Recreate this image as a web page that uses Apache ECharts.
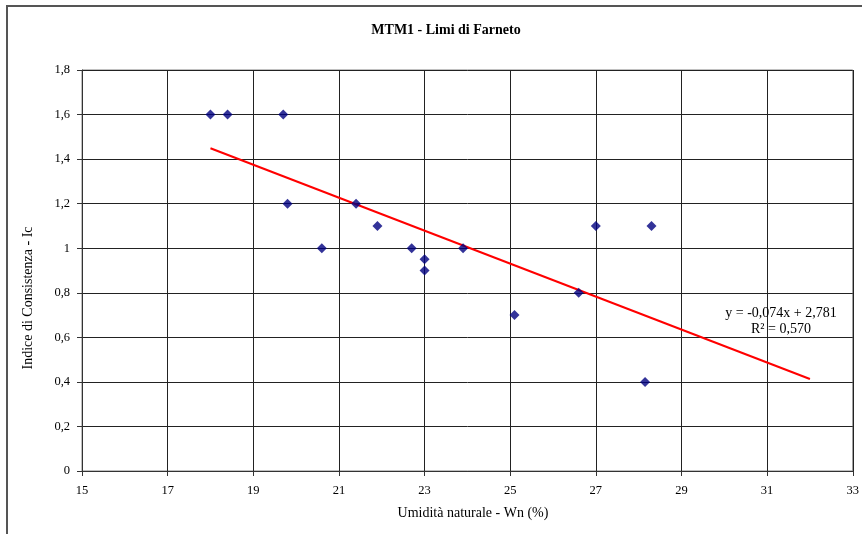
<!DOCTYPE html>
<html>
<head>
<meta charset="utf-8">
<script src="https://cdn.jsdelivr.net/npm/echarts@6/dist/echarts.min.js"></script>
<style>
html,body{margin:0;padding:0;background:#fff;}
#c{width:862px;height:534px;}
</style>
</head>
<body>
<div id="c"></div>
<script>
// Data
var wn = [18.0, 18.4, 19.7, 19.8, 20.6, 21.4, 21.9, 22.7, 23.0, 23.0, 23.9, 25.1, 26.6, 27.0, 28.3, 28.15];
var ic = [1.6, 1.6, 1.6, 1.2, 1.0, 1.2, 1.1, 1.0, 0.95, 0.9, 1.0, 0.7, 0.8, 1.1, 1.1, 0.4];
var trendX = [18, 32];
var trendY = [1.449, 0.413];
var xTickLabels = ['15','17','19','21','23','25','27','29','31','33'];
var yTickLabels = ['0','0,2','0,4','0,6','0,8','1','1,2','1,4','1,6','1,8'];
var titleText = 'MTM1 - Limi di Farneto';
var xTitle = 'Umidità naturale - Wn (%)';
var yTitle = 'Indice di Consistenza - Ic';
var eqLines = ['y = -0,074x + 2,781', 'R² = 0,570'];

var FONT = '"Liberation Serif", "Times New Roman", serif';
var chart = echarts.init(document.getElementById('c'), null, {renderer: 'canvas'});

var pts = wn.map(function (x, i) { return [x, ic[i]]; });
var trend = trendX.map(function (x, i) { return [x, trendY[i]]; });

chart.setOption({
  animation: false,
  backgroundColor: '#fff',
  title: {
    text: titleText,
    left: 441, top: 18, textAlign: 'center',
    textStyle: {fontFamily: FONT, fontSize: 14, fontWeight: 'bold', color: '#000'}
  },
  grid: {left: 82, right: 5, top: 70, bottom: 63, show: true, borderColor: '#808080', borderWidth: 1},
  xAxis: {
    type: 'value', min: 15, max: 33, interval: 2,
    axisLine: {show: true, onZero: false, lineStyle: {color: '#333', width: 1}},
    axisTick: {show: true, inside: false, length: 5, lineStyle: {color: '#333'}},
    axisLabel: {margin: 13, fontFamily: FONT, fontSize: 12.5, color: '#000',
      formatter: function (v) { return xTickLabels[Math.round((v - 15) / 2)]; }},
    splitLine: {show: true, lineStyle: {color: '#222', width: 1}}
  },
  yAxis: {
    type: 'value', min: 0, max: 1.8, interval: 0.2,
    axisLine: {show: true, onZero: false, lineStyle: {color: '#333', width: 1}},
    axisTick: {show: true, inside: false, length: 5, lineStyle: {color: '#333'}},
    axisLabel: {margin: 12, fontFamily: FONT, fontSize: 12.5, color: '#000',
      formatter: function (v) { return yTickLabels[Math.round(v / 0.2)]; }},
    splitLine: {show: true, lineStyle: {color: '#222', width: 1}}
  },
  series: [
    {
      type: 'line', data: trend, symbol: 'none', silent: true,
      lineStyle: {color: '#ff0000', width: 2}, z: 3
    },
    {
      type: 'scatter', data: pts, symbol: 'diamond', symbolSize: 10,
      itemStyle: {color: '#000080'}, z: 4
    }
  ],
  graphic: [
    {type: 'rect', shape: {x: 7, y: 6, width: 900, height: 600}, style: {fill: 'none', stroke: '#555', lineWidth: 2}, silent: true},
    {type: 'text', x: 473, y: 513, style: {text: xTitle, fontFamily: FONT, fontSize: 14, fill: '#000', textAlign: 'center', textVerticalAlign: 'middle'}},
    {type: 'text', x: 28, y: 298, rotation: Math.PI / 2, style: {text: yTitle, fontFamily: FONT, fontSize: 14, fill: '#000', textAlign: 'center', textVerticalAlign: 'middle'}},
    {type: 'text', x: 781, y: 313, z: 10, style: {text: eqLines[0], fontFamily: FONT, fontSize: 14, fill: '#000', textAlign: 'center', textVerticalAlign: 'middle'}},
    {type: 'text', x: 781, y: 329, z: 10, style: {text: eqLines[1], fontFamily: FONT, fontSize: 14, fill: '#000', textAlign: 'center', textVerticalAlign: 'middle'}}
  ]
});
</script>
</body>
</html>
